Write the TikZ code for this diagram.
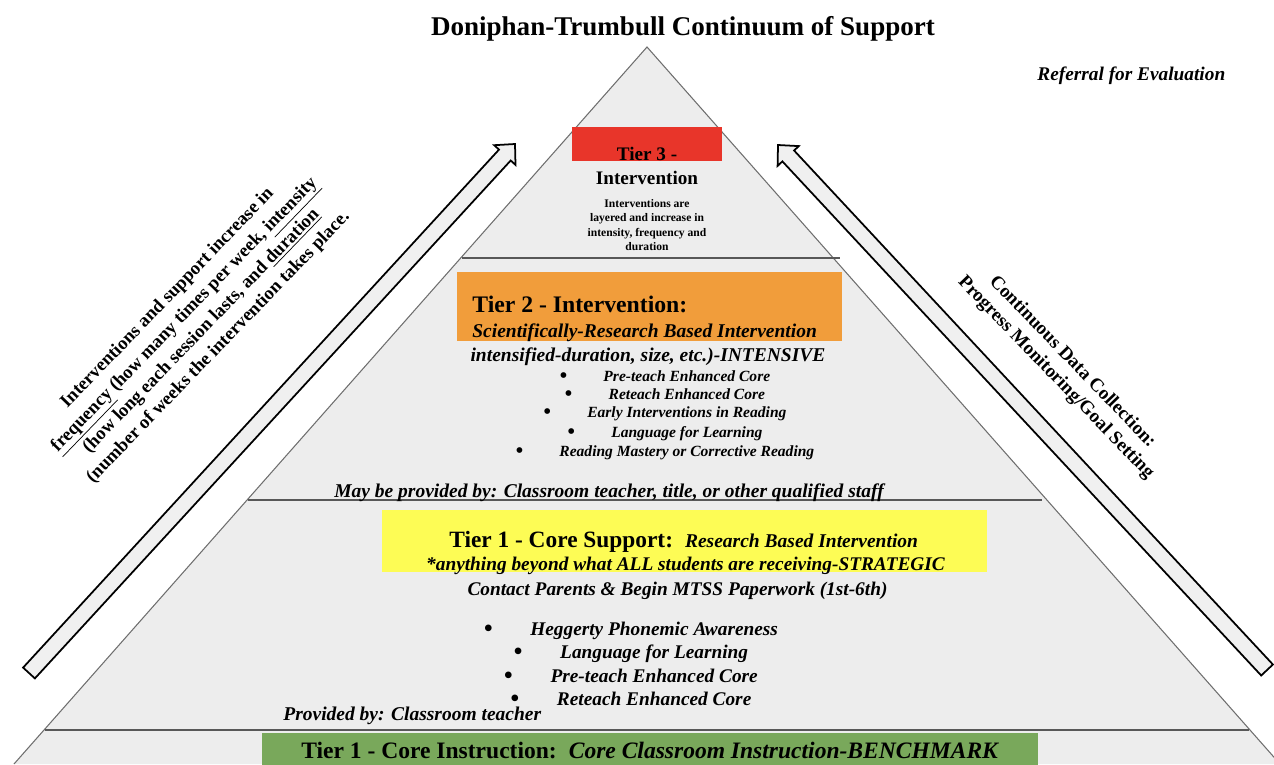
\documentclass[tikz,border=0pt]{standalone}
\usepackage{fontspec}
\setmainfont{Liberation Serif}
\usetikzlibrary{positioning}

\definecolor{pyramidgray}{HTML}{EDEDED}
\definecolor{edgegray}{HTML}{6E6E6E}
\definecolor{tierred}{HTML}{E8352A}
\definecolor{tierorange}{HTML}{F19D3B}
\definecolor{tieryellow}{HTML}{FDFC55}
\definecolor{tiergreen}{HTML}{79A85B}
\definecolor{arrowgray}{HTML}{F0F0F0}

\newcommand{\fsz}[2]{\fontsize{#1}{#2}\selectfont}
\newcommand{\bigdot}[1]{\raisebox{-0.6pt}{\upshape\fsz{#1}{#1}\textbullet}}

\begin{document}
\begin{tikzpicture}[x=0.02cm, y=-0.02cm,
  txt/.style={inner sep=0pt},
  lbl/.style={txt, anchor=base west},
  mid/.style={txt, anchor=base},
  tierline/.style={draw=edgegray!80!black, line width=0.8pt},
  bigarrow/.style={draw=black, fill=arrowgray, line width=1pt, line join=miter}]

\useasboundingbox (0,0) rectangle (1274,764);
\clip (0,0) rectangle (1274,764);

% pyramid
\fill[pyramidgray] (647,47) -- (14,764) -- (1280,764) -- cycle;
\draw[edgegray, line width=0.6pt] (14,764) -- (647,47) -- (1280,764);

% colored bands
\fill[tierred] (572,127) rectangle (722,161);
\fill[tierorange] (457,272) rectangle (842,341);
\fill[tieryellow] (382,510) rectangle (987,572);
\fill[tiergreen] (262,733) rectangle (1038,770);

% tier borders
\draw[tierline] (462,258) -- (840,258);
\draw[tierline] (248,500) -- (1042,500);
\draw[tierline] (45,730) -- (1249,730);

% title
\node[mid, font=\bfseries\fsz{15.4}{18}] (title) at (683,35) {Doniphan-Trumbull Continuum of Support};
\node[lbl, font=\bfseries\itshape\fsz{11}{13}] (referral) at (1037,80) {Referral for Evaluation};

% tier 3
\node[mid, font=\bfseries\fsz{10.9}{13}] (tierthree) at (647,160) {Tier 3 -};
\node[mid, font=\bfseries\fsz{10.9}{13}] (tierthreeb) at (647,184) {Intervention};
\node[txt, align=center, font=\bfseries\fsz{6.6}{8.3}] (tierthreenote) at (647,225)
  {Interventions are\\layered and increase in\\intensity, frequency and\\duration};

% tier 2
\node[lbl, font=\bfseries\fsz{13.5}{16}] (tiertwo) at (472,312) {Tier 2 - Intervention:};
\node[lbl, font=\bfseries\itshape\fsz{11.1}{13}] (tiertwosub) at (472,337) {Scientifically-Research Based Intervention};
\node[mid, font=\bfseries\itshape\fsz{11.1}{13}] (tiertwoint) at (648,361) {intensified-duration, size, etc.)-INTENSIVE};
\foreach \y/\t [count=\i] in {381/Pre-teach Enhanced Core, 399/Reteach Enhanced Core,
    417/Early Interventions in Reading, 437/Language for Learning,
    456/Reading Mastery or Corrective Reading}
  \node[mid, font=\bfseries\itshape\fsz{8.85}{10}] (tiertwoitem\i) at (665,\y) {\bigdot{12}\hspace{0.726cm}\t};
\node[mid, font=\bfseries\itshape\fsz{11.1}{13}] (tiertwostaff) at (609,497)
  {May be provided by: Classroom teacher, title, or other qualified staff};

% tier 1 support
\node[lbl, font=\bfseries] (tierone) at (449,547)
  {{\fsz{13.3}{16}Tier 1 - Core Support:}\hspace{0.24cm}{\itshape\fsz{11.1}{13}Research Based Intervention}};
\node[mid, font=\bfseries\itshape\fsz{11}{13}] (tieroneany) at (685.5,570)
  {*anything beyond what ALL students are receiving-STRATEGIC};
\node[mid, font=\bfseries\itshape\fsz{11}{13}] (tieronecontact) at (677.5,595)
  {Contact Parents \& Begin MTSS Paperwork (1st-6th)};
\foreach \y/\t [count=\i] in {635/Heggerty Phonemic Awareness, 658/Language for Learning,
    682/Pre-teach Enhanced Core, 705/Reteach Enhanced Core}
  \node[mid, font=\bfseries\itshape\fsz{11}{13}] (tieroneitem\i) at (631,\y) {\bigdot{14}\hspace{0.754cm}\t};
\node[lbl, font=\bfseries\itshape\fsz{11.1}{13}] (tieroneby) at (283,720) {Provided by: Classroom teacher};

% tier 1 core
\node[lbl, font=\bfseries\fsz{13.4}{16}] (tiercore) at (301,758)
  {Tier 1 - Core Instruction:\hspace{0.24cm}{\itshape Core Classroom Instruction-BENCHMARK}};

% side arrows
\draw[bigarrow] (23.1,667.6) -- (499.0,149.6) -- (494.2,145.2) -- (515,144)
  -- (515.5,164.9) -- (510.7,160.5) -- (34.9,678.4) -- cycle;
\draw[bigarrow] (1272.9,664.5) -- (794.1,150.5) -- (798.8,146.1) -- (778,145)
  -- (777.6,165.9) -- (782.4,161.4) -- (1261.2,675.5) -- cycle;

\node[txt, rotate=46, align=center, font=\bfseries\fsz{10.6}{13.4}] (lefttext) at (193,323)
  {Interventions and support increase in\\
   \underline{frequency} (how many times per week, \underline{intensity}\\
   (how long each session lasts, and \underline{duration}\\
   (number of weeks the intervention takes place.};
\node[txt, rotate=-46, align=center, font=\bfseries\fsz{10.8}{13}] (righttext) at (1064,370)
  {Continuous Data Collection:\\ Progress Monitoring/Goal Setting};

\end{tikzpicture}
\end{document}
